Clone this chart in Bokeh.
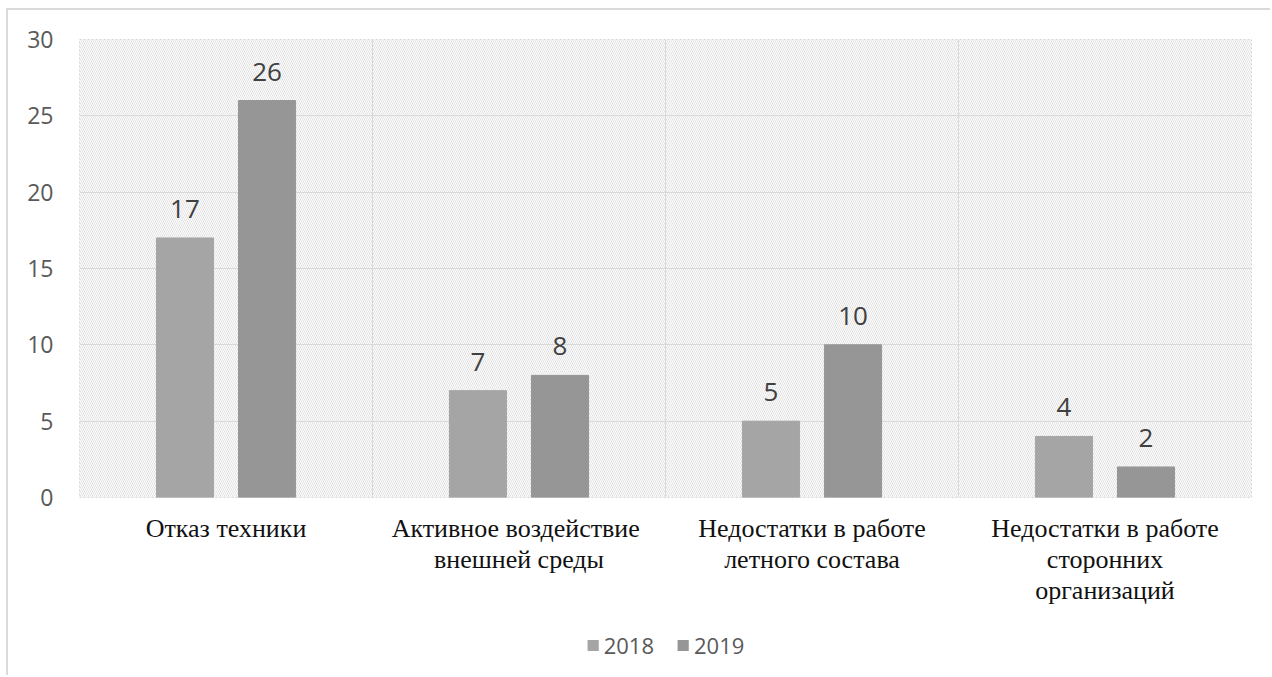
from bokeh.plotting import figure
from bokeh.layouts import column
from bokeh.models import (ColumnDataSource, Range1d, FixedTicker, Legend, LegendItem,
                          LabelSet)
from bokeh.transform import dodge
from bokeh.core.properties import value
from bokeh.embed import file_html
from bokeh.resources import INLINE

categories = ["Отказ техники",
              "Активное  воздействие\nвнешней среды",
              "Недостатки в работе\nлетного состава",
              "Недостатки в работе\nсторонних\nорганизаций"]
series_names = ["2018", "2019"]
values_2018 = [17, 7, 5, 4]
values_2019 = [26, 8, 10, 2]
y_ticks = [0, 5, 10, 15, 20, 25, 30]

positions = list(range(1, len(categories) + 1))
src = ColumnDataSource(dict(x=positions, v2018=values_2018, v2019=values_2019,
                            l2018=[str(v) for v in values_2018],
                            l2019=[str(v) for v in values_2019]))

c18 = "#a5a5a5"
c19 = "#969696"

W = 1262
H1, H2 = 597, 68
p = figure(width=W, height=H1, output_backend="svg", toolbar_location=None,
           x_range=Range1d(0.5, len(categories) + 0.5), y_range=Range1d(0, 30),
           min_border_left=71, min_border_right=19, min_border_top=29,
           min_border_bottom=108)
p.background_fill_color = "white"
p.border_fill_color = "white"
p.outline_line_color = "#d4d4d4"
p.outline_line_dash = "2 2"
p.outline_line_width = 1

# hatched plot-area background
bg = p.quad(left=[0.5], right=[len(categories) + 0.5], bottom=[0], top=[30],
            fill_alpha=0, line_alpha=0, hatch_pattern="\\", hatch_color="#d9d9d9",
            hatch_scale=4, hatch_weight=0.8)
bg.level = "image"

bw = 0.195
r1 = p.vbar(x=dodge("x", -0.14, range=p.x_range), top="v2018", width=bw, source=src,
            fill_color=c18, line_color=c18)
r2 = p.vbar(x=dodge("x", 0.14, range=p.x_range), top="v2019", width=bw, source=src,
            fill_color=c19, line_color=c19)

for col, lab, off in (("v2018", "l2018", -0.14), ("v2019", "l2019", 0.14)):
    p.add_layout(LabelSet(x=dodge("x", off, range=p.x_range), y=col, text=lab,
                          source=src, text_align="center", text_baseline="bottom",
                          y_offset=20, text_font=value("Open Sans"),
                          text_font_size="26px", text_color="#404040"))

# grids
p.ygrid.ticker = FixedTicker(ticks=y_ticks[1:-1])
p.ygrid.grid_line_color = "#d9d9d9"
p.ygrid.grid_line_width = 1
p.xgrid.ticker = FixedTicker(ticks=[1.5, 2.5, 3.5])
p.xgrid.grid_line_color = "#d9d9d9"
p.xgrid.grid_line_width = 1

# axes
p.yaxis.ticker = FixedTicker(ticks=y_ticks)
p.yaxis.axis_line_color = None
p.yaxis.major_tick_line_color = None
p.yaxis.minor_tick_line_color = None
p.yaxis.major_label_standoff = 20
p.yaxis.major_label_text_font = "Open Sans"
p.yaxis.major_label_text_font_size = "23px"
p.yaxis.major_label_text_color = "#595959"

p.xaxis.ticker = FixedTicker(ticks=positions)
p.xaxis.major_label_overrides = {pos: cat for pos, cat in zip(positions, categories)}
p.xaxis.axis_line_color = None
p.xaxis.major_tick_line_color = None
p.xaxis.minor_tick_line_color = None
p.xaxis.major_label_standoff = 10
p.xaxis.major_label_text_font = "Liberation Serif"
p.xaxis.major_label_text_font_size = "26px"
p.xaxis.major_label_text_color = "#111111"
p.xaxis.major_label_text_line_height = 1.077

# legend strip below the chart (its bars are out of view; only the swatches show)
q = figure(width=W, height=H2, output_backend="svg", toolbar_location=None,
           x_range=Range1d(0.5, len(categories) + 0.5), y_range=Range1d(100, 101),
           x_axis_type=None, y_axis_type=None,
           min_border_left=0, min_border_right=0, min_border_top=8, min_border_bottom=0)
q.outline_line_color = None
q.xgrid.visible = False
q.ygrid.visible = False
q.background_fill_color = "white"
q.border_fill_color = "white"
k1 = q.vbar(x="x", top="v2018", bottom="v2018", width=0, source=src,
            fill_color=c18, line_color=None)
k2 = q.vbar(x="x", top="v2019", bottom="v2019", width=0, source=src,
            fill_color=c19, line_color=None)
legend = Legend(items=[LegendItem(label=series_names[0], renderers=[k1]),
                       LegendItem(label=series_names[1], renderers=[k2])],
                orientation="horizontal", location="center",
                label_text_font="Open Sans", label_text_font_size="22px",
                label_text_color="#595959", glyph_width=14, glyph_height=14,
                spacing=22, label_standoff=4, background_fill_alpha=0,
                border_line_color=None, padding=0, margin=0)
q.add_layout(legend, "center")

layout = column(p, q, spacing=0)
layout.styles = {"margin-left": "6px", "margin-top": "8px",
                 "border-top": "2px solid #dadada", "border-left": "2px solid #dadada"}

open("out.html", "w").write(file_html(layout, INLINE))
